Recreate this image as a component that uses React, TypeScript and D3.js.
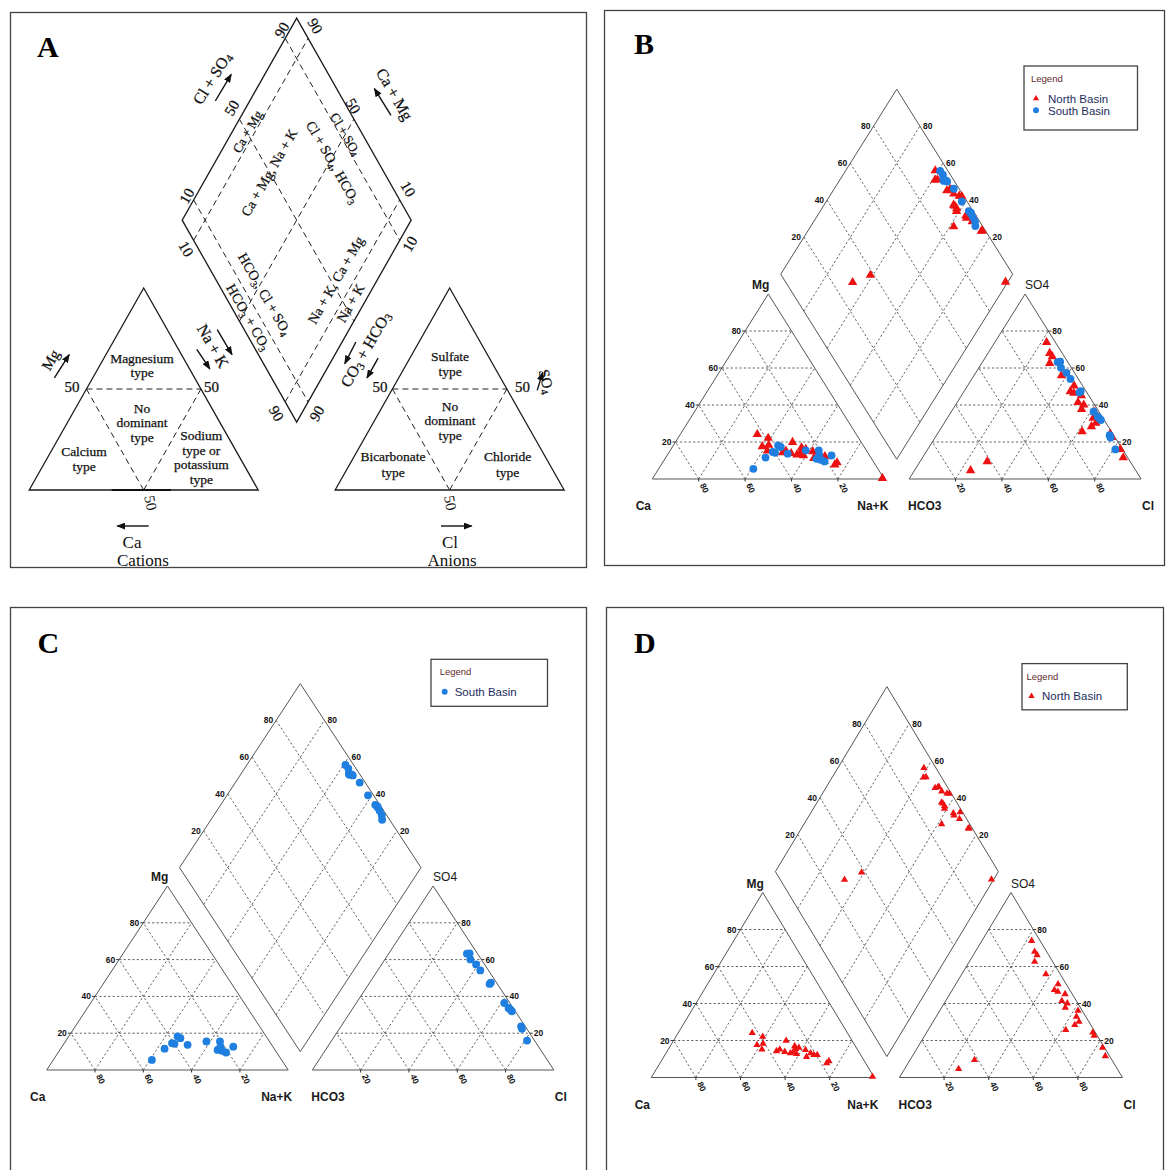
import React from "react";
import * as d3 from "d3";

// North Basin samples, % of meq (Ca = 100 - Mg - NaK, HCO3 = 100 - SO4 - Cl)
const northMg = [24.1, 22.1, 17.6, 18.3, 15.2, 19.9, 14.3, 15.2, 13.9, 17.0, 13.1, 13.9, 16.1, 12.7, 14.9, 11.2, 13.1, 12.2, 12.2, 7.7, 8.9, 0.4, 15.5];
const northNaK = [33.2, 38.9, 38.6, 41.0, 42.0, 50.5, 49.0, 50.0, 52.9, 55.8, 55.8, 56.7, 58.1, 58.8, 61.7, 64.0, 64.9, 66.8, 68.3, 74.8, 75.2, 99.0, 57.0];
const northSO4 = [4.6, 9.5, 68.0, 62.6, 47.3, 73.9, 46.4, 32.9, 50.4, 36.1, 37.7, 41.4, 55.9, 28.4, 25.7, 30.2, 40.1, 24.4, 45.1, 11.6, 22.6, 66.2, 16.1];
const northCl = [24.2, 28.9, 26.6, 29.3, 45.8, 22.3, 47.8, 62.9, 45.9, 62.0, 55.5, 52.1, 37.7, 64.4, 61.7, 65.4, 55.2, 74.5, 51.7, 86.5, 76.0, 28.6, 83.0];

// South Basin samples
const southMg = [5.5, 11.6, 14.6, 18.2, 14.2, 17.3, 13.7, 15.5, 15.5, 10.9, 12.7, 10.4, 9.5, 12.7];
const southNaK = [40.8, 43.0, 44.6, 45.1, 45.8, 46.7, 51.5, 58.4, 64.0, 65.3, 65.6, 67.4, 69.5, 70.9];
const southSO4 = [54.1, 63.4, 63.2, 60.1, 57.4, 46.8, 47.5, 36.4, 33.7, 31.9, 32.8, 23.7, 22.4, 16.0];
const southCl = [42.5, 33.4, 32.4, 35.4, 39.1, 50.0, 50.2, 61.3, 64.4, 66.7, 65.6, 74.6, 75.6, 80.9];

const tickSteps = [0.2, 0.4, 0.6, 0.8];
const tickLabels = ["20", "40", "60", "80"];

const RED = "#ee1111";
const BLUE = "#1f7fe0";
const SANS = "Liberation Sans, Arial, sans-serif";
const SERIF = "Liberation Serif, Times New Roman, serif";

type Geo = { x0: number; y0: number; W: number; H: number; g: number };
type Series = { name: string; mg: number[]; nak: number[]; so4: number[]; cl: number[]; shape: "tri" | "circle"; color: string; size: number };

function makeFrame(geo: Geo) {
  const sx = d3.scaleLinear().domain([0, 1]).range([geo.x0, geo.x0 + geo.W]);
  const sy = d3.scaleLinear().domain([0, 1]).range([geo.y0, geo.y0 - geo.H]);
  const P = (u: number, v: number): [number, number] => [sx(u), sy(v)];
  // diamond: n = Na+K fraction, c = SO4+Cl fraction
  const dm = (n: number, c: number) => P(0.5 * (1 + geo.g + c + n), 1 + geo.g + c - n);
  return { P, dm };
}

const symPath = (shape: string, size: number) =>
  d3.symbol().type(shape === "tri" ? d3.symbolTriangle : d3.symbolCircle).size(size)() as string;

function Legend({ x, y, w, h, items, mx, tx }: any) {
  return (
    <g>
      <rect x={x} y={y} width={w} height={h} fill="#fff" stroke="#444" strokeWidth={1.3} />
      <text x={x + mx - 5} y={y + 16} fontFamily={SANS} fontSize={9.5} fill="#5e2b2b">Legend</text>
      {items.map((it: Series, i: number) => (
        <g key={i}>
          <path transform={`translate(${x + mx},${y + 32.5 + i * 11.7})`} d={symPath(it.shape, it.shape === "tri" ? 17 : 28)} fill={it.color} />
          <text x={x + tx} y={y + 36.8 + i * 11.7} fontFamily={SANS} fontSize={11.5} fill="#1d2c5e">{it.name}</text>
        </g>
      ))}
    </g>
  );
}

function Piper({ geo, series, legend }: { geo: Geo; series: Series[]; legend: any }) {
  const { P, dm } = makeFrame(geo);
  const rx = 1 + geo.g;
  const line = d3.line();
  const outlines = [
    [P(0, 0), P(1, 0), P(0.5, 1)],
    [P(rx, 0), P(rx + 1, 0), P(rx + 0.5, 1)],
    [dm(1, 0), dm(0, 0), dm(0, 1), dm(1, 1)],
  ];
  const grid: [number, number][][] = [];
  tickSteps.forEach((t) => {
    [0, rx].forEach((ox) => {
      grid.push([P(ox + t / 2, t), P(ox + 1 - t / 2, t)]);
      grid.push([P(ox + t, 0), P(ox + (1 + t) / 2, 1 - t)]);
      grid.push([P(ox + 1 - t, 0), P(ox + (1 - t) / 2, 1 - t)]);
    });
    grid.push([dm(t, 0), dm(t, 1)]);
    grid.push([dm(0, t), dm(1, t)]);
  });
  const tf = { fontFamily: SANS, fontSize: 8.5, fontWeight: 700, fill: "#111" };
  const af = { fontFamily: SANS, fontSize: 12, fontWeight: 700, fill: "#1a1a1a" };
  const [mgX, mgY] = P(0.5, 1);
  const [soX, soY] = P(rx + 0.5, 1);
  const [naX] = P(1, 0);
  const [hcX] = P(rx, 0);
  const [clX] = P(rx + 1, 0);
  const yLab = geo.y0 + 31;

  return (
    <g>
      {grid.map((d, i) => (
        <path key={i} d={line(d) as string} stroke="#3a3a3a" strokeWidth={0.8} strokeDasharray="2.2,2.2" fill="none" />
      ))}
      {outlines.map((d, i) => (
        <path key={"o" + i} d={(line(d as any) as string) + "Z"} stroke="#555" strokeWidth={1} fill="none" />
      ))}
      {tickSteps.map((t, i) => {
        const [x1, y1] = P(t / 2, t);
        const [x2, y2] = P(rx + 1 - t / 2, t);
        const [x3] = P(t, 0);
        const [x4] = P(rx + t, 0);
        const [x5, y5] = dm(0, t);
        const [x6, y6] = dm(1 - t, 1);
        return (
          <g key={"t" + i}>
            <line x1={x1 - 3} x2={x1} y1={y1} y2={y1} stroke="#333" />
            <text x={x1 - 4} y={y1 + 3} textAnchor="end" {...tf}>{tickLabels[i]}</text>
            <line x1={x2} x2={x2 + 3} y1={y2} y2={y2} stroke="#333" />
            <text x={x2 + 4} y={y2 + 3} {...tf}>{tickLabels[i]}</text>
            <line x1={x3} x2={x3} y1={geo.y0} y2={geo.y0 + 2.5} stroke="#333" />
            <line x1={x4} x2={x4} y1={geo.y0} y2={geo.y0 + 2.5} stroke="#333" />
            <text transform={`translate(${x3 + 1},${geo.y0 + 6}) rotate(65)`} {...tf}>{tickLabels[3 - i]}</text>
            <text transform={`translate(${x4 + 1},${geo.y0 + 6}) rotate(65)`} {...tf}>{tickLabels[i]}</text>
            <text x={x5 - 3} y={y5 + 3} textAnchor="end" {...tf}>{tickLabels[i]}</text>
            <text x={x6 + 3} y={y6 + 3} {...tf}>{tickLabels[i]}</text>
          </g>
        );
      })}
      <text x={mgX + 1} y={mgY - 5} textAnchor="end" {...af}>Mg</text>
      <text x={soX} y={soY - 5} {...af} fontWeight={400}>SO4</text>
      <text x={geo.x0 - 9} y={yLab} textAnchor="middle" {...af}>Ca</text>
      <text x={naX + 4} y={yLab} textAnchor="end" {...af}>Na+K</text>
      <text x={hcX - 1} y={yLab} {...af}>HCO3</text>
      <text x={clX + 1} y={yLab} {...af}>Cl</text>
      {series.map((s, si) => (
        <g key={"s" + si} fill={s.color}>
          {s.mg.map((mg, i) => {
            const nak = s.nak[i];
            const so4 = s.so4[i];
            const cl = s.cl[i];
            const pts = [
              P(nak / 100 + mg / 200, mg / 100),
              P(rx + cl / 100 + so4 / 200, so4 / 100),
              dm(nak / 100, (so4 + cl) / 100),
            ];
            return pts.map((p, k) => (
              <path key={i + "-" + k} transform={`translate(${p[0]},${p[1]})`} d={symPath(s.shape, s.size)} />
            ));
          })}
        </g>
      ))}
      <Legend {...legend} items={series} />
    </g>
  );
}

function Chem({ s, size }: { s: string; size: number }) {
  const parts = s.split(/(_\d)/).filter((p) => p !== "");
  const shift = size * 0.28;
  let low = false;
  return (
    <>
      {parts.map((p, i) => {
        if (p.startsWith("_")) {
          low = true;
          return <tspan key={i} fontSize={size * 0.7} dy={shift}>{p[1]}</tspan>;
        }
        const dy = low ? -shift : undefined;
        low = false;
        return <tspan key={i} dy={dy}>{p}</tspan>;
      })}
    </>
  );
}

// label, x, y, rotation, font size
const aLabels: [string, number, number, number, number][] = [
  ["90", 282, 30, -60, 15],
  ["90", 315, 26, 60, 15],
  ["Cl + SO_4", 211.6, 78, -58, 16],
  ["50", 232, 108, -60, 15],
  ["Ca + Mg", 247, 131.5, -60, 13],
  ["Ca + Mg, Na + K", 269, 172.5, -60, 14],
  ["Cl + SO_4, HCO_3", 333, 162, 60, 14],
  ["Cl + SO_4", 346, 134, 60, 13],
  ["50", 353, 106, 60, 15],
  ["Ca + Mg", 395, 94, 60, 16],
  ["10", 187, 196, -60, 15],
  ["10", 408, 189, 60, 15],
  ["10", 186, 249, 60, 15],
  ["10", 410, 244, -60, 15],
  ["HCO_3, Cl + SO_4", 265, 294, 60, 14],
  ["HCO_3 + CO_3", 248.6, 317, 60, 14],
  ["Na + K, Ca + Mg", 335.6, 280, -60, 14],
  ["Na + K", 350.4, 303, -60, 14],
  ["90", 276.4, 413.6, 60, 15],
  ["90", 317, 413.6, -60, 15],
  ["CO_3 + HCO_3", 365, 349, -60, 16],
  ["Na + K", 213.5, 345.7, 60, 16],
  ["Mg", 50.7, 360, -60, 15],
  ["SO_4", 546.4, 381.4, 75, 15],
];

const aTypeLabels: [string, number, number][] = [
  ["Magnesium", 142, 358], ["type", 142, 372.5],
  ["No", 142, 408], ["dominant", 142, 422.5], ["type", 142, 437],
  ["Calcium", 84, 451], ["type", 84, 466.4],
  ["Sodium", 201.3, 435], ["type or", 201.3, 450.4], ["potassium", 201.3, 464.6], ["type", 201.3, 479],
  ["Sulfate", 450, 356.4], ["type", 450, 371.4],
  ["No", 450, 406.4], ["dominant", 450, 420.7], ["type", 450, 435],
  ["Bicarbonate", 393, 456.4], ["type", 393, 472.5],
  ["Chloride", 507.6, 456.4], ["type", 507.6, 472.5],
  ["50", 72, 386.8], ["50", 211.6, 386.8], ["50", 380, 386.8], ["50", 522.4, 386.8],
];

const aArrows: [number, number, number, number][] = [
  [215.3, 101, 231.2, 74.3],
  [391, 115.4, 374.4, 88.6],
  [217.2, 329.6, 232, 354.6],
  [196.8, 349.3, 209.8, 368.9],
  [355.9, 342, 344.8, 363.6],
  [378.1, 358.2, 367, 377.9],
  [54.4, 377.9, 69.2, 354.6],
  [537.2, 390.4, 542.7, 372.5],
  [148.7, 526, 117.3, 526],
  [441, 526, 471.7, 526],
];

function PanelA() {
  const geo: Geo = { x0: 29.2, y0: 490, W: 229, H: 202, g: 0.336 };
  const { P, dm } = makeFrame(geo);
  const rx = 1 + geo.g;
  const line = d3.line();
  const solid = [
    [P(0, 0), P(1, 0), P(0.5, 1)],
    [P(rx, 0), P(rx + 1, 0), P(rx + 0.5, 1)],
    [dm(1, 0), dm(0, 0), dm(0, 1), dm(1, 1)],
  ];
  const dashed: [number, number][][] = [];
  [0.1, 0.5, 0.9].forEach((t) => {
    dashed.push([dm(t, 0), dm(t, 1)]);
    dashed.push([dm(0, t), dm(1, t)]);
  });
  [0, rx].forEach((ox) => {
    dashed.push([P(ox + 0.25, 0.5), P(ox + 0.75, 0.5)]);
    dashed.push([P(ox + 0.25, 0.5), P(ox + 0.5, 0)]);
    dashed.push([P(ox + 0.75, 0.5), P(ox + 0.5, 0)]);
  });
  return (
    <g fontFamily={SERIF} fill="#111">
      {dashed.map((d, i) => (
        <path key={i} d={line(d) as string} stroke="#222" strokeWidth={1} strokeDasharray="6,4" fill="none" />
      ))}
      {solid.map((d, i) => (
        <path key={"s" + i} d={(line(d as any) as string) + "Z"} stroke="#1a1a1a" strokeWidth={1.3} fill="none" />
      ))}
      <line x1={111.7} x2={171} y1={490} y2={490} stroke="#111" strokeWidth={2} />
      {aLabels.map(([t, x, y, r, s], i) => (
        <text key={"l" + i} transform={`translate(${x},${y}) rotate(${r})`} textAnchor="middle" dominantBaseline="central" fontSize={s} stroke="#111" strokeWidth={0.25}>
          <Chem s={t} size={s} />
        </text>
      ))}
      {aTypeLabels.map(([t, x, y], i) => (
        <text key={"t" + i} x={x} y={y} textAnchor="middle" dominantBaseline="central" fontSize={t === "50" ? 15 : 13.5} stroke="#111" strokeWidth={0.25}>{t}</text>
      ))}
      <text transform="translate(150.6,503) rotate(80)" textAnchor="middle" dominantBaseline="central" fontSize={15}>50</text>
      <text transform="translate(450.2,503) rotate(80)" textAnchor="middle" dominantBaseline="central" fontSize={15}>50</text>
      {aArrows.map(([x1, y1, x2, y2], i) => (
        <line key={"a" + i} x1={x1} y1={y1} x2={x2} y2={y2} stroke="#111" strokeWidth={1.4} markerEnd="url(#ah)" />
      ))}
      <text x={132} y={542} textAnchor="middle" dominantBaseline="central" fontSize={17}>Ca</text>
      <text x={143} y={560} textAnchor="middle" dominantBaseline="central" fontSize={17}>Cations</text>
      <text x={450} y={542} textAnchor="middle" dominantBaseline="central" fontSize={17}>Cl</text>
      <text x={452} y={560} textAnchor="middle" dominantBaseline="central" fontSize={17}>Anions</text>
    </g>
  );
}

const geoB: Geo = { x0: 652.3, y0: 479, W: 232, H: 185, g: 0.107 };
const geoC: Geo = { x0: 46.7, y0: 1070, W: 241.5, H: 184, g: 0.1 };
const geoD: Geo = { x0: 651.3, y0: 1077.5, W: 223, H: 185, g: 0.113 };

const north = (size: number): Series => ({ name: "North Basin", mg: northMg, nak: northNaK, so4: northSO4, cl: northCl, shape: "tri", color: RED, size });
const south = (size: number): Series => ({ name: "South Basin", mg: southMg, nak: southNaK, so4: southSO4, cl: southCl, shape: "circle", color: BLUE, size });

export default function App() {
  const letter = { fontFamily: SERIF, fontWeight: 700, fontSize: 30, fill: "#000" };
  return (
    <div>
      <style>{`body{margin:0}`}</style>
      <svg width={1167} height={1170} viewBox="0 0 1167 1170" style={{ display: "block", background: "#fff" }}>
        <defs>
          <marker id="ah" markerWidth={9} markerHeight={7} refX={8} refY={3.5} orient="auto" markerUnits="userSpaceOnUse">
            <path d="M0,0 L9,3.5 L0,7 Z" fill="#111" />
          </marker>
        </defs>
        <rect width={1167} height={1170} fill="#fff" />
        <PanelA />
        <Piper geo={geoB} series={[north(38), south(48)]} legend={{ x: 1024, y: 66, w: 113.5, h: 64, mx: 12, tx: 24 }} />
        <Piper geo={geoC} series={[south(48)]} legend={{ x: 431, y: 659.3, w: 116.5, h: 47, mx: 13.7, tx: 23.7 }} />
        <Piper geo={geoD} series={[north(23)]} legend={{ x: 1022, y: 663.6, w: 105.3, h: 46.2, mx: 9.5, tx: 20 }} />
        <g fill="none" stroke="#444" strokeWidth={1.3}>
          <rect x={10.5} y={12.5} width={576} height={555} />
          <rect x={604.5} y={10.5} width={560} height={555} />
          <rect x={10.5} y={607.5} width={576} height={570} />
          <rect x={606.5} y={607.5} width={557} height={570} />
        </g>
        <text x={37} y={57} {...letter}>A</text>
        <text x={634} y={54} {...letter}>B</text>
        <text x={37.5} y={653} {...letter}>C</text>
        <text x={634} y={653} {...letter}>D</text>
      </svg>
    </div>
  );
}
